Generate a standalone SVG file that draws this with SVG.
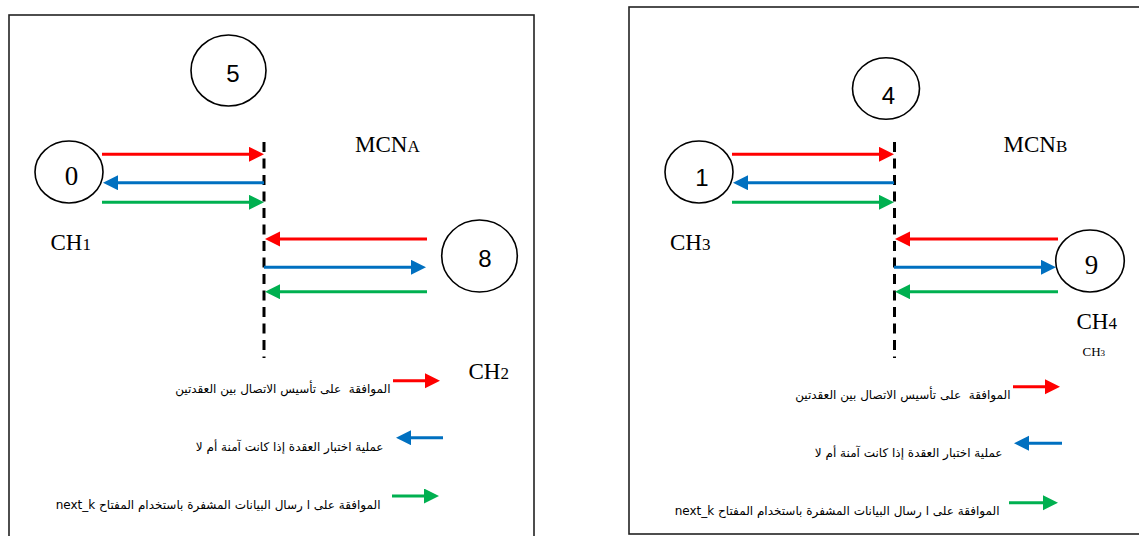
<svg xmlns="http://www.w3.org/2000/svg" width="1139" height="536" viewBox="0 0 1139 536">
<style>
.frame{fill:none;stroke:#222;stroke-width:1.6}
.node{fill:#fff;stroke:#000;stroke-width:1.6}
.dsans{font-family:"Liberation Sans",Arial,sans-serif;font-size:24px;fill:#000;text-anchor:middle}
.dserif{font-family:"Liberation Serif","Times New Roman",serif;font-size:27px;fill:#000;text-anchor:middle}
.lbl{font-family:"Liberation Serif","Times New Roman",serif;font-size:23px;fill:#000}
.sub{font-size:17px}
.ar{font-family:"DejaVu Sans","Noto Sans",sans-serif;font-size:12px;fill:#000;white-space:pre}
.dash{stroke:#000;stroke-width:3;stroke-dasharray:10 6.5;fill:none}
.r{stroke:#FF0000;stroke-width:3;fill:none;marker-end:url(#hr)}
.b{stroke:#0070C0;stroke-width:3;fill:none;marker-end:url(#hb)}
.g{stroke:#00B050;stroke-width:3;fill:none;marker-end:url(#hg)}
</style>
<defs>
<marker id="hr" markerUnits="userSpaceOnUse" markerWidth="16" markerHeight="16" refX="3" refY="7.5" orient="auto"><path d="M0,0 L15,7.5 L0,15 z" fill="#FF0000"/></marker>
<marker id="hb" markerUnits="userSpaceOnUse" markerWidth="16" markerHeight="16" refX="3" refY="7.5" orient="auto"><path d="M0,0 L15,7.5 L0,15 z" fill="#0070C0"/></marker>
<marker id="hg" markerUnits="userSpaceOnUse" markerWidth="16" markerHeight="16" refX="3" refY="7.5" orient="auto"><path d="M0,0 L15,7.5 L0,15 z" fill="#00B050"/></marker>
</defs>
<rect width="1139" height="536" fill="#fff"/>

<!-- Left panel -->
<g id="panelA">
<rect class="frame" x="9" y="15" width="525" height="540"/>
</g>
<g id="mcnA-line"><line class="dash" x1="264" y1="142" x2="264" y2="358"/></g>
<g id="node5"><ellipse class="node" cx="228.5" cy="70.5" rx="37.5" ry="35.5"/><text class="dsans" x="233" y="81.5">5</text></g>
<g id="node0"><ellipse class="node" cx="69" cy="172" rx="34" ry="31"/><text class="dserif" x="71.5" y="185">0</text></g>
<g id="node8"><ellipse class="node" cx="479.5" cy="256" rx="37.8" ry="36"/><text class="dsans" x="485" y="266.5">8</text></g>
<g id="labelMCNA"><text class="lbl" x="355" y="152">MCN<tspan class="sub">A</tspan></text></g>
<g id="labelCH1"><text class="lbl" x="50.5" y="249.5">CH<tspan class="sub">1</tspan></text></g>
<g id="labelCH2"><text class="lbl" x="468.5" y="378.5">CH<tspan class="sub">2</tspan></text></g>

<!-- Right panel -->
<g id="panelB">
<rect class="frame" x="629" y="7" width="530" height="527"/>
</g>
<g id="mcnB-line"><line class="dash" x1="894.5" y1="142" x2="894.5" y2="358"/></g>
<g id="node4"><ellipse class="node" cx="886" cy="88.5" rx="33.5" ry="30.8"/><text class="dsans" x="888.5" y="103.5">4</text></g>
<g id="node1"><ellipse class="node" cx="699" cy="172" rx="34" ry="31"/><text class="dsans" x="702" y="185.5">1</text></g>
<g id="node9"><ellipse class="node" cx="1090" cy="261" rx="34.3" ry="31"/><text class="dserif" x="1091.5" y="274">9</text></g>
<g id="labelMCNB"><text class="lbl" x="1003.5" y="152">MCN<tspan class="sub">B</tspan></text></g>
<g id="labelCH3"><text class="lbl" x="670" y="249.5">CH<tspan class="sub">3</tspan></text></g>
<g id="labelCH4"><text class="lbl" x="1076.5" y="329">CH<tspan class="sub">4</tspan></text></g>
<g id="labelCH3small"><text class="lbl" x="1082.5" y="356" style="font-size:13px">CH<tspan style="font-size:9px">3</tspan></text></g>

<!-- Legends -->
<g id="legendA">
<text class="ar" x="390.5" y="393" direction="rtl">الموافقة  على تأسيس الاتصال بين العقدتين</text>
<text class="ar" x="383.5" y="451" direction="rtl">عملية اختبار العقدة إذا كانت آمنة أم لا</text>
<text class="ar" x="380.5" y="509" direction="rtl">الموافقة على ا رسال البيانات المشفرة باستخدام المفتاح next_k</text>
</g>
<g id="legendB">
<text class="ar" x="1010.5" y="399" direction="rtl">الموافقة  على تأسيس الاتصال بين العقدتين</text>
<text class="ar" x="1002.5" y="457" direction="rtl">عملية اختبار العقدة إذا كانت آمنة أم لا</text>
<text class="ar" x="999.5" y="515" direction="rtl">الموافقة على ا رسال البيانات المشفرة باستخدام المفتاح next_k</text>
</g>

<!-- Connectors -->
<g id="connectors">
<line class="r" x1="102" y1="154.3" x2="252" y2="154.3"/>
<line class="b" x1="264" y1="182.7" x2="115" y2="182.7"/>
<line class="g" x1="102" y1="202.3" x2="252" y2="202.3"/>
<line class="r" x1="427" y1="239" x2="277" y2="239"/>
<line class="b" x1="264" y1="267.3" x2="414" y2="267.3"/>
<line class="g" x1="427" y1="291.7" x2="277" y2="291.7"/>
<line class="r" x1="393" y1="380.7" x2="428" y2="380.7"/>
<line class="b" x1="443" y1="437.7" x2="408" y2="437.7"/>
<line class="g" x1="392" y1="496" x2="427" y2="496"/>

<line class="r" x1="732" y1="154.3" x2="882" y2="154.3"/>
<line class="b" x1="894" y1="182.7" x2="745" y2="182.7"/>
<line class="g" x1="732" y1="202.3" x2="882" y2="202.3"/>
<line class="r" x1="1058" y1="239" x2="907" y2="239"/>
<line class="b" x1="894" y1="267.3" x2="1044" y2="267.3"/>
<line class="g" x1="1058" y1="291.7" x2="907" y2="291.7"/>
<line class="r" x1="1013" y1="386.7" x2="1048" y2="386.7"/>
<line class="b" x1="1062" y1="443.3" x2="1026" y2="443.3"/>
<line class="g" x1="1009" y1="502.7" x2="1046" y2="502.7"/>
</g>
</svg>
